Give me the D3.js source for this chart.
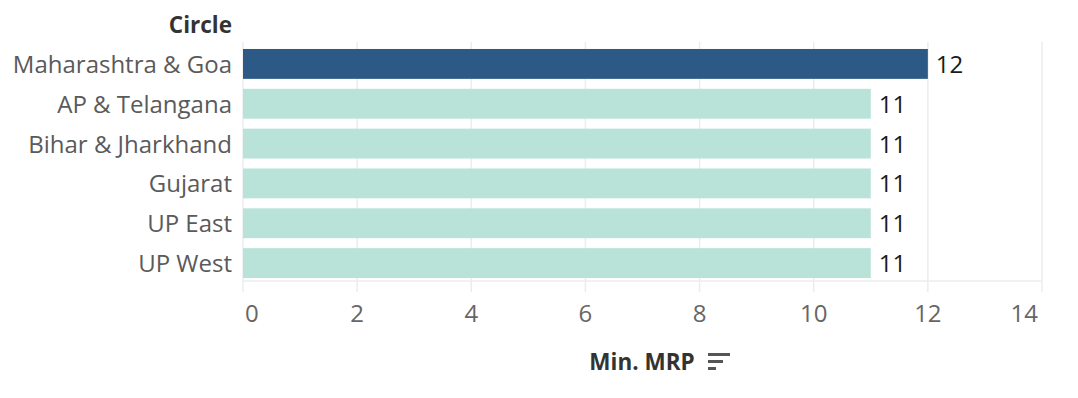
<!DOCTYPE html>
<html>
<head>
<meta charset="utf-8">
<script src="https://cdn.jsdelivr.net/npm/d3@7"></script>
<style>
  body { margin: 0; background: #fff; }
  svg { display: block; font-family: "Open Sans", sans-serif; }
</style>
</head>
<body>
<svg width="1078" height="398"></svg>
<script>
// data
const circles = ['Maharashtra & Goa', 'AP & Telangana', 'Bihar & Jharkhand', 'Gujarat', 'UP East', 'UP West'];
const minMrp = [12, 11, 11, 11, 11, 11];
const xTicks = [0, 2, 4, 6, 8, 10, 12, 14];

let svg = d3.select('svg');

let paneLeft = 243, paneRight = 1042, paneTop = 42, paneBottom = 281;

let x = d3.scaleLinear().domain([0, 14]).range([paneLeft, paneRight]);
let y = d3.scaleBand().domain(circles).range([paneTop + 2, paneBottom + 2]).paddingInner(0.25).paddingOuter(0.125);

let rows = circles.map((c, i) => ({ circle: c, value: minMrp[i] }));
let maxVal = d3.max(minMrp);

// grid lines
svg.append('g')
   .selectAll('line')
   .data(xTicks)
   .enter().append('line')
   .attr('x1', d => x(d)).attr('x2', d => x(d))
   .attr('y1', paneTop).attr('y2', paneBottom + 11)
   .attr('stroke', '#ececec')
   .attr('stroke-width', 1.5);

svg.append('line')
   .attr('x1', paneLeft).attr('x2', paneRight)
   .attr('y1', paneBottom).attr('y2', paneBottom)
   .attr('stroke', '#ececec')
   .attr('stroke-width', 1.5);

// bars
svg.append('g')
   .selectAll('rect')
   .data(rows)
   .enter().append('rect')
   .attr('x', x(0))
   .attr('y', d => y(d.circle))
   .attr('width', d => x(d.value) - x(0))
   .attr('height', y.bandwidth())
   .attr('fill', d => d.value === maxVal ? '#2c5985' : '#b9e3d8');

// value labels
svg.append('g')
   .selectAll('text')
   .data(rows)
   .enter().append('text')
   .attr('x', d => x(d.value) + 8)
   .attr('y', d => y(d.circle) + y.bandwidth() / 2 + 9)
   .attr('font-size', 24)
   .attr('fill', '#1a1a1a')
   .text(d => d.value);

// category labels
svg.append('g')
   .selectAll('text')
   .data(rows)
   .enter().append('text')
   .attr('x', 232)
   .attr('y', d => y(d.circle) + y.bandwidth() / 2 + 9)
   .attr('text-anchor', 'end')
   .attr('font-size', 24)
   .attr('fill', '#5a5a5a')
   .text(d => d.circle);

svg.append('text')
   .attr('x', 232).attr('y', 33)
   .attr('text-anchor', 'end')
   .attr('font-size', 22.5)
   .attr('font-weight', 'bold')
   .attr('fill', '#333')
   .text('Circle');

// axis tick labels
svg.append('g')
   .selectAll('text')
   .data(xTicks)
   .enter().append('text')
   .attr('x', (d, i) => i === 0 ? x(d) + 2 : i === xTicks.length - 1 ? x(d) - 4 : x(d))
   .attr('y', 322)
   .attr('text-anchor', (d, i) => i === 0 ? 'start' : i === xTicks.length - 1 ? 'end' : 'middle')
   .attr('font-size', 24)
   .attr('fill', '#666')
   .text(d => d);

// axis title + sort icon
svg.append('text')
   .attr('x', 642).attr('y', 370)
   .attr('text-anchor', 'middle')
   .attr('font-size', 22.5)
   .attr('font-weight', 'bold')
   .attr('fill', '#333')
   .text('Min. MRP');

let icon = svg.append('g').attr('fill', '#555');
[[708, 353, 22], [708, 360, 15], [708, 367, 8]].forEach(b => {
  icon.append('rect').attr('x', b[0]).attr('y', b[1]).attr('width', b[2]).attr('height', 3);
});
</script>
</body>
</html>
